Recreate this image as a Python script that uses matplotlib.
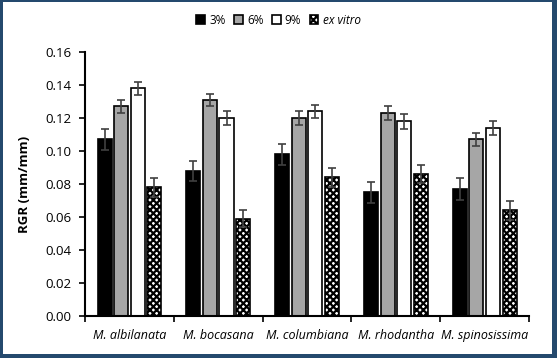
import matplotlib
matplotlib.use("Agg")
import matplotlib.pyplot as plt
from matplotlib.patches import Rectangle
import numpy as np

plt.rcParams['font.family'] = ['Open Sans', 'DejaVu Sans']
plt.rcParams['hatch.linewidth'] = 1.6

# data
species = ["M. albilanata", "M. bocasana", "M. columbiana", "M. rhodantha", "M. spinosissima"]
series = ["3%", "6%", "9%", "ex vitro"]
rgr_3 = [0.107, 0.088, 0.098, 0.075, 0.077]
rgr_6 = [0.127, 0.131, 0.120, 0.123, 0.107]
rgr_9 = [0.138, 0.120, 0.124, 0.118, 0.114]
rgr_ex = [0.078, 0.059, 0.084, 0.086, 0.064]
err_3 = [0.0063, 0.0062, 0.0062, 0.0065, 0.0065]
err_6 = [0.004, 0.0036, 0.004, 0.004, 0.004]
err_9 = [0.004, 0.004, 0.004, 0.0044, 0.004]
err_ex = [0.0056, 0.0052, 0.006, 0.0056, 0.006]
yticks = [0.00, 0.02, 0.04, 0.06, 0.08, 0.10, 0.12, 0.14, 0.16]

fig = plt.figure(figsize=(5.57, 3.58), dpi=100)
ax = fig.add_axes([0.1526, 0.1173, 0.7974, 0.7374])

x = np.arange(len(species))
width = 0.158
step = 0.186
styles = [
    dict(color="black", edgecolor="black"),
    dict(color="#a6a6a6", edgecolor="black"),
    dict(color="white", edgecolor="black"),
    dict(color="white", edgecolor="black", hatch="xxxxx"),
]
vals = [rgr_3, rgr_6, rgr_9, rgr_ex]
errs = [err_3, err_6, err_9, err_ex]
handles = []
for i, (v, e, st) in enumerate(zip(vals, errs, styles)):
    pos = x + (i - 1.5) * step
    b = ax.bar(pos, v, width, linewidth=1.2, label=series[i], **st)
    ax.errorbar(pos, v, yerr=e, fmt="none", ecolor="#404040", elinewidth=1.2,
                capsize=3, capthick=1.2)
    handles.append(b)

ax.set_xlim(-0.5, len(species) - 0.5)
ax.set_ylim(0, 0.16)
ax.set_yticks(yticks)
ax.set_yticklabels([f"{t:.2f}" for t in yticks], fontsize=9.5)
ax.set_xticks(np.arange(len(species) + 1) - 0.5)
ax.set_xticklabels([])
ax.set_xticks(x, minor=True)
ax.set_xticklabels(species, minor=True, fontsize=9, style="italic")
ax.tick_params(axis="x", which="minor", length=0, pad=9)
ax.tick_params(axis="x", which="major", length=4, width=1.2)
ax.tick_params(axis="y", length=4, width=1.2, pad=6)
for s in ["top", "right"]:
    ax.spines[s].set_visible(False)
for s in ["left", "bottom"]:
    ax.spines[s].set_linewidth(1.5)

ax.set_ylabel("RGR (mm/mm)", fontsize=9.5, fontweight="bold", labelpad=10)

leg = fig.legend(handles=handles, loc="center", bbox_to_anchor=(0.5, 0.944),
                 ncol=4, frameon=False, fontsize=8.5, handlelength=0.75,
                 handleheight=0.75, handletextpad=0.35, columnspacing=0.7)
leg.get_texts()[3].set_style("italic")

# dark blue frame around the picture
W, H = 557, 358
frame_col = "#24496d"
for (x0, y0, w, h) in [(0, 0, 3, H), (0, 0, W, 4), (0, H - 2, W, 2), (W - 5, 0, 5, H)]:
    fig.patches.append(Rectangle((x0 / W, y0 / H), w / W, h / H, transform=fig.transFigure,
                                 facecolor=frame_col, edgecolor="none", zorder=10))

fig.savefig("out.png", dpi=100)
